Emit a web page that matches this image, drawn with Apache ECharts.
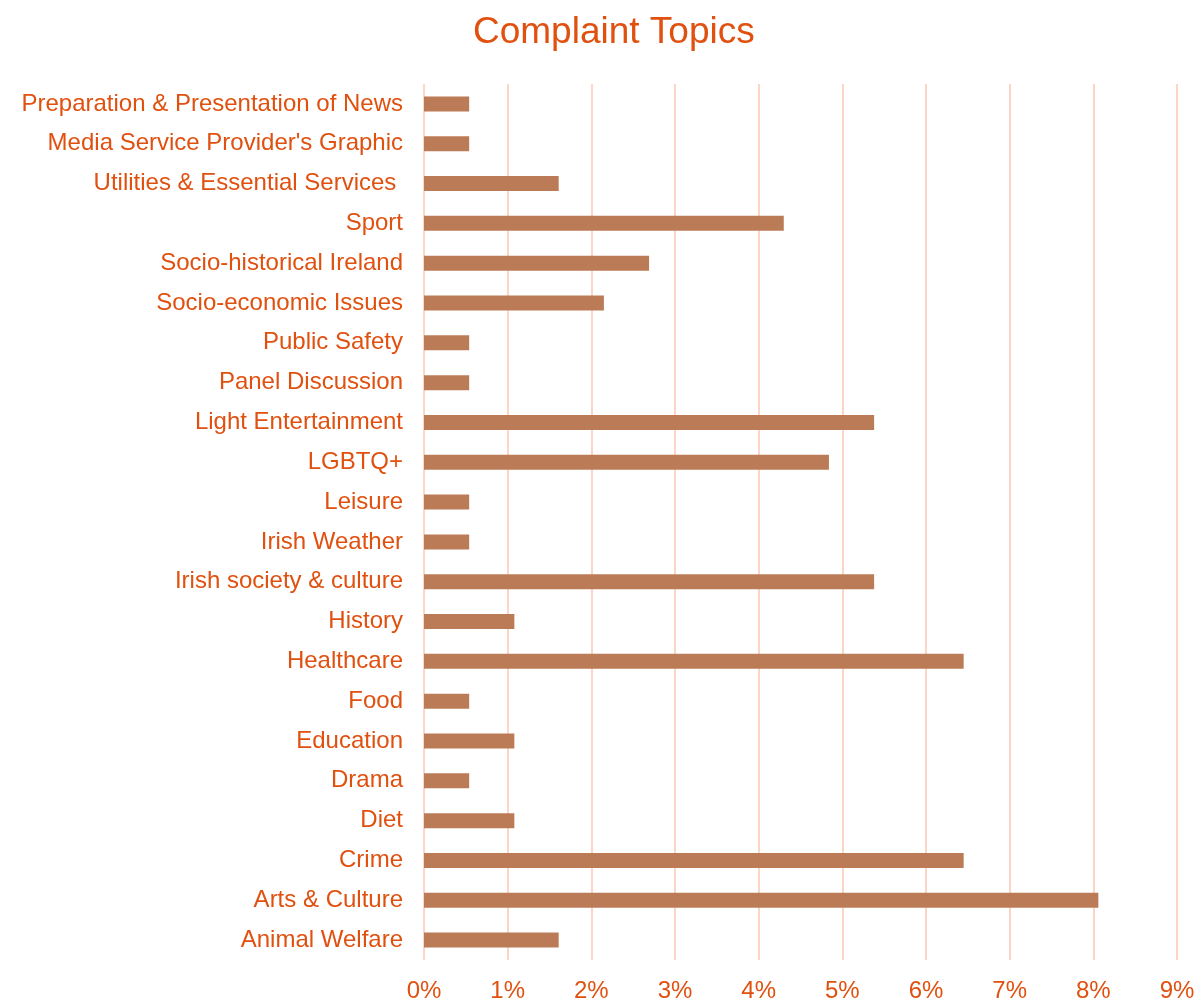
<!DOCTYPE html>
<html>
<head>
<meta charset="utf-8">
<script src="https://cdn.jsdelivr.net/npm/echarts@6/dist/echarts.min.js"></script>
<style>
  html, body { margin: 0; padding: 0; background: #fff; }
  #main { width: 1194px; height: 1000px; }
</style>
</head>
<body>
<div id="main"></div>
<script>
// categories, bottom to top
var topics = [
    'Animal Welfare', 'Arts & Culture', 'Crime', 'Diet', 'Drama', 'Education',
    'Food', 'Healthcare', 'History', 'Irish society & culture', 'Irish Weather',
    'Leisure', 'LGBTQ+', 'Light Entertainment', 'Panel Discussion', 'Public Safety',
    'Socio-economic Issues', 'Socio-historical Ireland', 'Sport',
    'Utilities & Essential Services ', "Media Service Provider's Graphic",
    'Preparation & Presentation of News'
];
// share of complaints, %
var shares = [
    1.61, 8.06, 6.45, 1.08, 0.54, 1.08,
    0.54, 6.45, 1.08, 5.38, 0.54,
    0.54, 4.84, 5.38, 0.54, 0.54,
    2.15, 2.69, 4.30,
    1.61, 0.54,
    0.54
];

var textColor = '#E0500F';
var font = "'Liberation Sans', Arial, sans-serif";

var chart = echarts.init(document.getElementById('main'));
chart.setOption({
    animation: false,
    title: {
        text: 'Complaint Topics',
        left: 468,
        top: 9,
        textStyle: {color: textColor, fontSize: 37, fontWeight: 'normal', fontFamily: font}
    },
    grid: {left: 424, right: 17, top: 84, bottom: 40, containLabel: false, outerBoundsMode: 'none'},
    xAxis: {
        type: 'value',
        min: 0,
        max: 9,
        interval: 1,
        axisLine: {show: false},
        axisTick: {show: false},
        axisLabel: {
            color: textColor, fontSize: 24, fontFamily: font, margin: 19,
            formatter: function (v) { return v + '%'; }
        },
        splitLine: {lineStyle: {color: '#FCD5C4', width: 2}}
    },
    yAxis: {
        type: 'category',
        data: topics,
        axisLine: {show: false},
        axisTick: {show: false},
        axisLabel: {color: textColor, fontSize: 24, fontFamily: font, margin: 21}
    },
    series: [{
        type: 'bar',
        data: shares,
        barWidth: 15,
        itemStyle: {color: '#BC7B57'}
    }]
});
</script>
</body>
</html>
